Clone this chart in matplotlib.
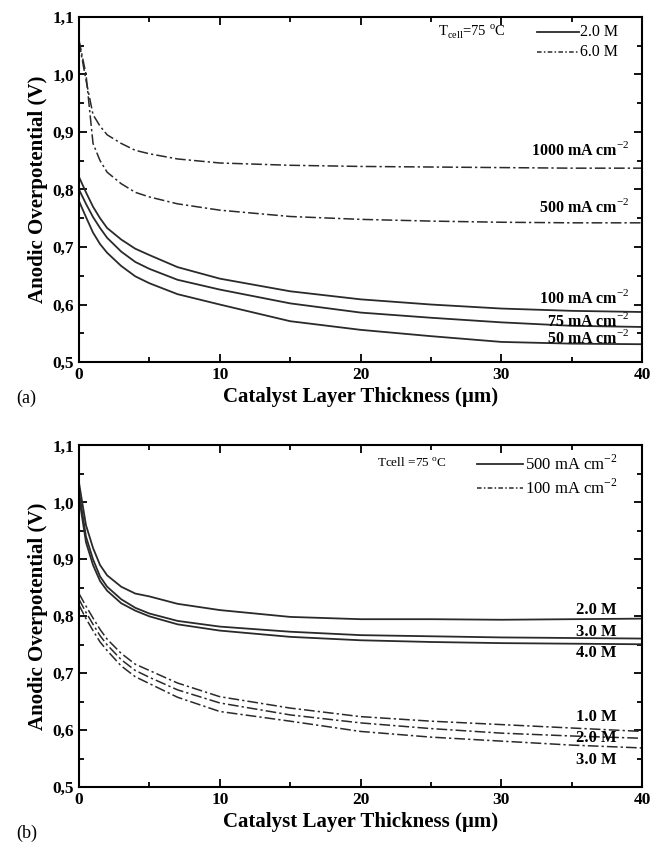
import numpy as np
import matplotlib
matplotlib.use("Agg")
import matplotlib.pyplot as plt
from matplotlib.ticker import MultipleLocator, FuncFormatter

plt.rcParams['font.family'] = ['Liberation Serif', 'DejaVu Serif']
plt.rcParams['mathtext.fontset'] = 'custom'
plt.rcParams['mathtext.rm'] = 'Liberation Serif'
plt.rcParams['mathtext.bf'] = 'Liberation Serif:bold'

# thickness (um), shared by every curve
thickness = [0, 0.5, 1, 1.5, 2, 3, 4, 5, 7, 10, 15, 20, 25, 30, 35, 40]

# panel (a): 2.0 M (solid) and 6.0 M (dash-dot)
a_6M_1000 = [1.057, 0.99, 0.93, 0.91, 0.895, 0.88, 0.868, 0.862, 0.853, 0.846, 0.842, 0.840, 0.839, 0.838, 0.837, 0.837]
a_6M_500 = [1.06, 1.0, 0.88, 0.85, 0.83, 0.81, 0.795, 0.787, 0.775, 0.764, 0.753, 0.748, 0.745, 0.743, 0.742, 0.742]
a_2M_100 = [0.822, 0.795, 0.77, 0.75, 0.733, 0.713, 0.697, 0.686, 0.665, 0.645, 0.623, 0.609, 0.600, 0.593, 0.589, 0.587]
a_2M_75 = [0.80, 0.775, 0.752, 0.733, 0.716, 0.692, 0.674, 0.662, 0.643, 0.626, 0.602, 0.586, 0.577, 0.569, 0.563, 0.561]
a_2M_50 = [0.78, 0.752, 0.725, 0.705, 0.690, 0.667, 0.649, 0.637, 0.618, 0.600, 0.571, 0.556, 0.545, 0.535, 0.532, 0.531]

# panel (b): 500 mA cm-2 (solid) and 100 mA cm-2 (dash-dot)
b_500_2M = [1.035, 0.96, 0.92, 0.89, 0.872, 0.852, 0.84, 0.835, 0.822, 0.811, 0.799, 0.795, 0.795, 0.794, 0.795, 0.796]
b_500_3M = [1.02, 0.94, 0.90, 0.87, 0.852, 0.83, 0.815, 0.805, 0.792, 0.782, 0.773, 0.767, 0.765, 0.763, 0.762, 0.761]
b_500_4M = [1.01, 0.93, 0.89, 0.862, 0.845, 0.823, 0.81, 0.80, 0.786, 0.775, 0.764, 0.758, 0.755, 0.753, 0.752, 0.751]
b_100_1M = [0.84, 0.818, 0.797, 0.777, 0.76, 0.735, 0.716, 0.705, 0.683, 0.659, 0.639, 0.624, 0.616, 0.610, 0.604, 0.598]
b_100_2M = [0.83, 0.807, 0.786, 0.766, 0.75, 0.724, 0.705, 0.693, 0.671, 0.648, 0.627, 0.613, 0.603, 0.595, 0.590, 0.586]
b_100_3M = [0.82, 0.796, 0.775, 0.755, 0.74, 0.713, 0.694, 0.682, 0.658, 0.633, 0.616, 0.598, 0.588, 0.581, 0.574, 0.569]

a_labels = ["1000 mA cm$^{-2}$", "500 mA cm$^{-2}$", "100 mA cm$^{-2}$", "75 mA cm$^{-2}$", "50 mA cm$^{-2}$"]
a_label_y = [0.869, 0.770, 0.611, 0.571, 0.542]
b_labels = ["2.0 M", "3.0 M", "4.0 M", "1.0 M", "2.0 M", "3.0 M"]
b_label_y = [0.811, 0.772, 0.735, 0.623, 0.586, 0.548]

DASH = (0, (7, 2, 1.5, 2))
LC = '#2a2a2a'

fig = plt.figure(figsize=(6.69, 8.42), dpi=100)
ax1 = fig.add_axes([0.118, 0.570, 0.842, 0.410])
ax2 = fig.add_axes([0.118, 0.065, 0.842, 0.406])


def style(ax, tick_fs):
    ax.set_xlim(0, 40)
    ax.set_ylim(0.5, 1.1)
    ax.xaxis.set_major_locator(MultipleLocator(10))
    ax.xaxis.set_minor_locator(MultipleLocator(5))
    ax.yaxis.set_major_locator(MultipleLocator(0.1))
    ax.yaxis.set_minor_locator(MultipleLocator(0.05))
    ax.yaxis.set_major_formatter(FuncFormatter(lambda v, p: f"{v:.1f}".replace('.', ',')))
    ax.tick_params(which='both', direction='in', top=True, right=True, width=1.3)
    ax.tick_params(which='major', length=6, labelsize=tick_fs)
    ax.tick_params(which='minor', length=3.5)
    for lab in ax.get_xticklabels() + ax.get_yticklabels():
        lab.set_fontweight('bold')
    for s in ax.spines.values():
        s.set_linewidth(1.5)
    ax.set_xlabel("Catalyst Layer Thickness (µm)", fontsize=15, fontweight='bold', labelpad=3)
    ax.set_ylabel("Anodic Overpotential (V)", fontsize=15, fontweight='bold', labelpad=3)


# panel (a)
for y in [a_6M_1000, a_6M_500]:
    ax1.plot(thickness, y, color=LC, lw=1.1, linestyle=DASH)
for y in [a_2M_100, a_2M_75, a_2M_50]:
    ax1.plot(thickness, y, color=LC, lw=1.3)
style(ax1, 12.5)
for txt, yy in zip(a_labels, a_label_y):
    ax1.text(39.1, yy, txt, ha='right', va='center', fontsize=11.5, fontweight='bold')
ax1.text(25.5, 1.074, "T$_{\\mathrm{cell}}$=75 $^{\\mathrm{o}}$C", ha='left', va='center', fontsize=10.5)
ax1.plot([32.5, 35.5], [1.074, 1.074], color=LC, lw=1.3)
ax1.plot([32.5, 35.5], [1.039, 1.039], color=LC, lw=1.1, linestyle=(0, (3, 1.5, 1, 1.5)))
ax1.text(35.6, 1.074, "2.0 M", ha='left', va='center', fontsize=11.5)
ax1.text(35.6, 1.039, "6.0 M", ha='left', va='center', fontsize=11.5)
fig.text(0.025, 1 - 398 / 842, "(a)", fontsize=13, ha='left', va='center')

# panel (b)
for y in [b_500_2M, b_500_3M, b_500_4M]:
    ax2.plot(thickness, y, color=LC, lw=1.3)
for y in [b_100_1M, b_100_2M, b_100_3M]:
    ax2.plot(thickness, y, color=LC, lw=1.1, linestyle=DASH)
style(ax2, 12.5)
for txt, yy in zip(b_labels, b_label_y):
    ax2.text(38.2, yy, txt, ha='right', va='center', fontsize=12, fontweight='bold')
ax2.text(21.2, 1.068, "Tcell =75 $^{\\mathrm{o}}$C", ha='left', va='center', fontsize=9.5)
ax2.plot([28.3, 31.5], [1.068, 1.068], color=LC, lw=1.3)
ax2.plot([28.3, 31.5], [1.026, 1.026], color=LC, lw=1.1, linestyle=(0, (3, 1.5, 1, 1.5)))
ax2.text(31.7, 1.068, "500 mA cm$^{-2}$", ha='left', va='center', fontsize=12)
ax2.text(31.7, 1.026, "100 mA cm$^{-2}$", ha='left', va='center', fontsize=12)
fig.text(0.025, 1 - 833 / 842, "(b)", fontsize=13, ha='left', va='center')

fig.savefig("out.png", dpi=100)
